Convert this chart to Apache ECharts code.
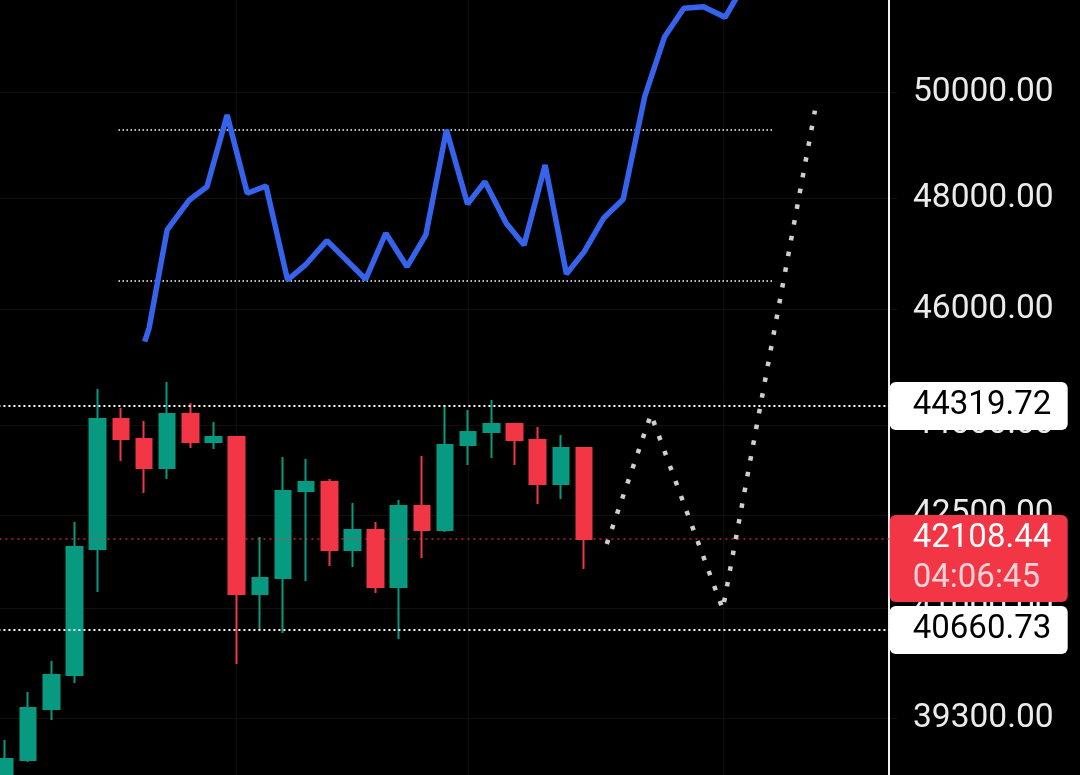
<!DOCTYPE html>
<html lang="en">
<head>
    <meta charset="UTF-8">
    <title>BTC 4h</title>
    <script src="https://cdn.jsdelivr.net/npm/echarts@6/dist/echarts.min.js"></script>
    <style>
        html, body { margin: 0; padding: 0; background: #000; }
        #chart { width: 1080px; height: 775px; }
    </style>
</head>
<body>
<div id="chart"></div>
<script>
    // candles: [open, close, low, high]
    var candles = [
        [38235, 38693, 38088, 38977],
        [38678, 39460, 38649, 39703],
        [39444, 39963, 39278, 40179],
        [39963, 41979, 39840, 42385],
        [41947, 44099, 41259, 44610],
        [44099, 43761, 43392, 44286],
        [43761, 43275, 42860, 44065],
        [43275, 44184, 43091, 44731],
        [44184, 43710, 43610, 44371],
        [43710, 43795, 43593, 44048],
        [43795, 41227, 40133, 43811],
        [41227, 41482, 40661, 42141],
        [41482, 42893, 40614, 43459],
        [42893, 43042, 41434, 43426],
        [43042, 41931, 41673, 43091],
        [41931, 42255, 41657, 42696],
        [42255, 41338, 41243, 42385],
        [41338, 42646, 40520, 42745],
        [42646, 42255, 41802, 43476],
        [42255, 43660, 42222, 44337],
        [43660, 43879, 43325, 44252],
        [43879, 44014, 43442, 44422],
        [44014, 43744, 43325, 44031],
        [43744, 43009, 42679, 43963],
        [43009, 43610, 42761, 43828],
        [43610, 42108.44, 41625, 43610]
    ];
    var slotCount = 39;          // candles + empty space on the right
    var priceTicks = [52000, 50000, 48000, 46000, 44000, 42500, 41000, 39300];
    var axisTop = 52411, axisBottom = 38014;

    var lastPrice = 42108.44;
    var countdown = '04:06:45';
    var rangeHigh = 44319.72;
    var rangeLow = 40660.73;

    // hand drawn blue path: [slot, price]
    var bluePath = [
        [6.03, 45429], [6.22, 45664], [7.0, 47424], [7.96, 47974], [8.72, 48220],
        [9.59, 49568], [10.46, 48098], [11.27, 48233], [12.2, 46520], [12.97, 46790],
        [13.9, 47229], [15.57, 46533], [16.44, 47364], [17.36, 46759], [18.17, 47333],
        [19.06, 49283], [19.97, 47900], [20.72, 48313], [21.64, 47546], [22.41, 47151],
        [23.32, 48624], [24.24, 46628], [25.01, 47030], [25.84, 47638], [26.69, 47987],
        [27.62, 49919], [28.48, 51084], [29.31, 51645], [30.16, 51677], [31.09, 51466],
        [31.65, 51910]
    ];
    var boxLevels = [49283, 46502];
    var boxFrom = 4.9, boxTo = 33.2;

    // dotted projection zigzag: [slot, price]
    var projection = [[25.98, 42027], [27.89, 44177], [30.99, 40986], [34.97, 49650]];
    var gridSlots = [10, 20, 31];

    var LN = Math.log;
    var slots = [];
    for (var i = 0; i < slotCount; i++) slots.push(String(i));

    var font = 'Roboto';
    function boxLabel(text, bg, fg) {
        return {
            show: true, position: 'end', distance: -7,
            formatter: text,
            backgroundColor: bg, color: fg,
            fontFamily: font, fontSize: 33, lineHeight: 40,
            padding: [4, 0, 4, 23], width: 155, borderRadius: 6, align: 'left'
        };
    }

    var series = [];
    series.push({
        type: 'line', xAxisIndex: 1, data: [], z: 0, silent: true,
        markLine: {
            symbol: 'none', silent: true, z: 0,
            lineStyle: {color: '#0f0f0f', width: 1, type: 'solid'},
            label: {show: false},
            data: gridSlots.map(function (s) { return {xAxis: s}; })
        }
    });
    series.push({
        type: 'candlestick', xAxisIndex: 0, z: 2,
        data: candles.map(function (c) { return c.map(LN); }),
        barWidth: 16,
        itemStyle: {
            color: '#089981', color0: '#f23645',
            borderColor: '#089981', borderColor0: '#f23645', borderWidth: 2
        },
        markLine: {
            symbol: 'none', silent: true, precision: 8,
            data: [
                {
                    yAxis: LN(rangeHigh),
                    lineStyle: {color: '#ffffff', width: 2, type: [2, 3]},
                    label: boxLabel(rangeHigh.toFixed(2), '#ffffff', '#000000')
                },
                {
                    yAxis: LN(lastPrice),
                    lineStyle: {color: 'rgba(242,54,69,0.75)', width: 1.5, type: [2, 4]},
                    label: {
                        show: true, position: 'end', distance: -7, offset: [0, 19.5],
                        formatter: '{a|' + lastPrice.toFixed(2) + '}\n{b|' + countdown + '}',
                        backgroundColor: '#f23645',
                        padding: [4, 0, 3, 23], width: 155, borderRadius: 6, align: 'left',
                        rich: {
                            a: {color: '#ffffff', fontFamily: font, fontSize: 33, lineHeight: 40},
                            b: {color: 'rgba(255,255,255,0.78)', fontFamily: font, fontSize: 33, lineHeight: 40}
                        }
                    }
                },
                {
                    yAxis: LN(rangeLow),
                    lineStyle: {color: '#ffffff', width: 2, type: [2, 3]},
                    label: boxLabel(rangeLow.toFixed(2), '#ffffff', '#000000')
                }
            ]
        }
    });
    boxLevels.forEach(function (v) {
        series.push({
            type: 'line', xAxisIndex: 1, symbol: 'none', silent: true,
            data: [[boxFrom, LN(v)], [boxTo, LN(v)]],
            lineStyle: {color: '#ffffff', width: 1.5, type: [1.5, 2.5]}
        });
    });
    series.push({
        type: 'line', xAxisIndex: 1, symbol: 'none', silent: true,
        data: bluePath.map(function (p) { return [p[0], LN(p[1])]; }),
        lineStyle: {color: '#3563eb', width: 5.5}
    });
    series.push({
        type: 'line', xAxisIndex: 1, symbol: 'none', silent: true,
        data: projection.map(function (p) { return [p[0], LN(p[1])]; }),
        lineStyle: {color: '#cfcfcf', width: 4.5, type: [4.5, 11.5], cap: 'butt'}
    });

    var myChart = echarts.init(document.getElementById('chart'));
    myChart.setOption({
        backgroundColor: '#000000',
        animation: false,
        grid: {left: -6.58, right: 183.3, top: -30, bottom: -30, outerBoundsMode: 'none'},
        xAxis: [
            {type: 'category', data: slots, show: false, boundaryGap: true},
            {type: 'value', min: -0.5, max: slotCount - 0.5, show: false, splitLine: {show: false}}
        ],
        yAxis: {
            type: 'value', position: 'right', offset: -7.7,
            min: LN(axisBottom), max: LN(axisTop),
            axisLine: {show: true, onZero: false, lineStyle: {color: '#f0f0f0', width: 2}},
            axisTick: {show: false, customValues: priceTicks.map(LN)},
            axisLabel: {
                customValues: priceTicks.map(LN),
                formatter: function (v) { return Math.exp(v).toFixed(2); },
                color: '#ebebeb', fontFamily: font, fontSize: 33.5, margin: 24,
                padding: [8, 0, 0, 0]
            },
            splitLine: {show: true, lineStyle: {color: '#101010', width: 1}}
        },
        series: series
    });
</script>
</body>
</html>
